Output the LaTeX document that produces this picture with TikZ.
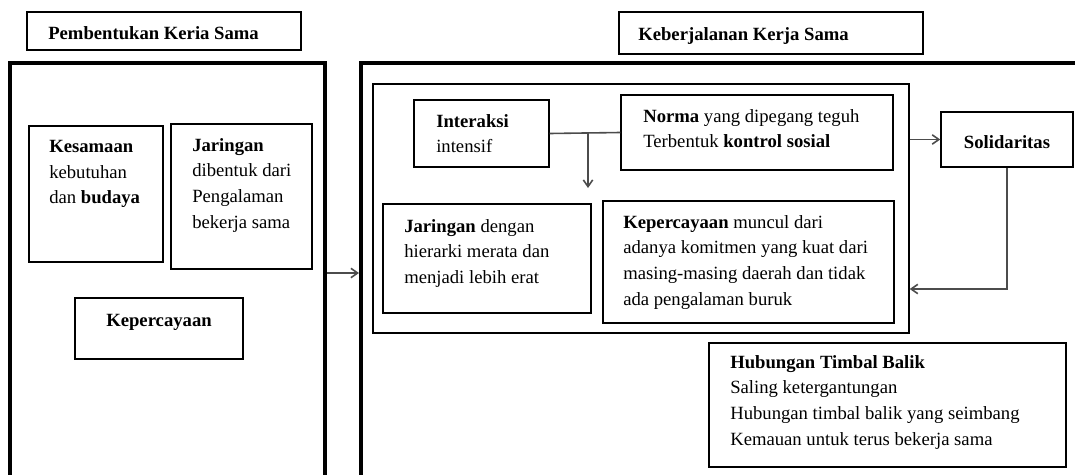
\documentclass[tikz,border=0pt]{standalone}
\usepackage{fontspec}
\setmainfont{Liberation Serif}
\usepackage{tikz}
\usetikzlibrary{arrows, arrows.meta, calc}

\begin{document}
\begin{tikzpicture}[x=0.75pt, y=-0.75pt,
        box/.style={draw, line width=1.1pt, inner sep=0pt},
        bigbox/.style={draw, line width=3pt, inner sep=0pt},
        txt/.style={anchor=north west, align=left, inner sep=0pt,
            font=\fontsize{14}{19.25}\selectfont},
        link/.style={line width=1.2pt, black!70},
        arr/.style={link, -{Straight Barb[length=5pt, width=7pt]}}]
                \def\F{0.75pt} % one pixel
                \useasboundingbox (0,0) rectangle (1075,475);

                % headings
                \node[box, minimum width=274*\F, minimum height=38*\F] (titleA) at (164,31) {};
                \node[box, minimum width=304*\F, minimum height=42*\F] (titleB) at (771,33) {};
                \node[txt] at (48,26) {\textbf{Pembentukan Keria Sama}};
                \node[txt] at (638,27) {\textbf{Keberjalanan Kerja Sama}};

                % left part
                \node[bigbox, minimum width=315*\F, minimum height=420*\F] (leftbig) at (167.5,273) {};
                \node[box, minimum width=134*\F, minimum height=136*\F] (kesamaan) at (96,194) {};
                \node[box, minimum width=141*\F, minimum height=145*\F] (jaringanA) at (241.5,196.5) {};
                \node[box, minimum width=168*\F, minimum height=61*\F] (percayaA) at (159,328.5) {};
                \node[txt] at (49,140) {\textbf{Kesamaan}\\kebutuhan\\dan \textbf{budaya}};
                \node[txt] at (192,138) {\textbf{Jaringan}\\dibentuk dari\\Pengalaman\\bekerja sama};
                \node[txt, anchor=north] at (159,314) {\textbf{Kepercayaan}};

                % right part
                \node[bigbox, minimum width=729*\F, minimum height=420*\F] (rightbig) at (725.5,273) {};
                \node[box, minimum width=536*\F, minimum height=249*\F] (inner) at (641,208.5) {};
                \node[box, minimum width=135*\F, minimum height=67*\F] (interaksi) at (481.5,133.5) {};
                \node[box, minimum width=272*\F, minimum height=75*\F] (norma) at (757,132.5) {};
                \node[box, minimum width=208*\F, minimum height=109*\F] (jaringanB) at (487,258.5) {};
                \node[box, minimum width=291*\F, minimum height=122*\F] (percayaB) at (748.5,262) {};
                \node[box, minimum width=132*\F, minimum height=55*\F] (solidaritas) at (1007,139.5) {};
                \node[box, minimum width=357*\F, minimum height=124*\F] (timbal) at (887.5,405) {};

                \node[txt] at (436,114) {\textbf{Interaksi}\\intensif};
                \node[txt] at (643,109) {\textbf{Norma} yang dipegang teguh\\Terbentuk \textbf{kontrol sosial}};
                \node[txt] at (404,219) {\textbf{Jaringan} dengan\\hierarki merata dan\\menjadi lebih erat};
                \node[txt] at (623,215) {\textbf{Kepercayaan} muncul dari\\adanya komitmen yang kuat dari\\masing-masing daerah dan tidak\\ada pengalaman buruk};
                \node[txt, anchor=north] at (1007,135) {\textbf{Solidaritas}};
                \node[txt] at (730,355) {\textbf{Hubungan Timbal Balik}\\Saling ketergantungan\\Hubungan timbal balik yang seimbang\\Kemauan untuk terus bekerja sama};

                % connectors
                \coordinate (split) at (588,133);
                \coordinate (drop) at (588,188);
                \draw[link] (interaksi.east) -- (norma.west);
                \draw[arr] (split) -- (drop);
                \draw[arr] (leftbig.east) -- (rightbig.west);
                \draw[arr] (solidaritas.west -| inner.east) -- (solidaritas.west);
                \draw[arr] (solidaritas.south) |- (inner.east |- 0,289);
            \end{tikzpicture}
\end{document}
